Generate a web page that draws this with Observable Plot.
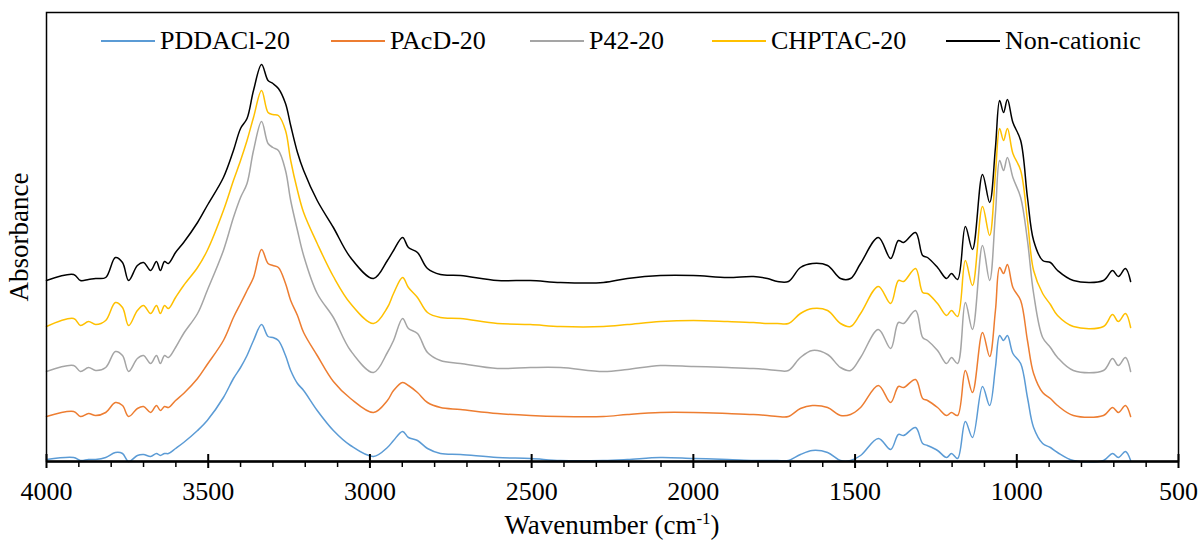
<!DOCTYPE html>
<html><head><meta charset="utf-8">
<script src="https://cdn.jsdelivr.net/npm/d3@7"></script>
<script src="https://cdn.jsdelivr.net/npm/@observablehq/plot@0.6"></script>
<style>
body{margin:0;background:#fff;}
#wrap{position:relative;width:1199px;height:542px;font-family:"Liberation Serif",Tinos,"Times New Roman",Times,"DejaVu Serif",serif;color:#000;}
.item{position:absolute;top:27px;height:28px;display:flex;align-items:center;font-size:26px;white-space:nowrap;}
.item .sw{display:block;width:54px;height:1.6px;margin-right:5px;}
#xlab{position:absolute;left:46px;width:1132px;top:510px;text-align:center;font-size:27px;line-height:30px;}
#xlab sup{font-size:17px;vertical-align:10px;line-height:0;}
</style></head><body><div id="wrap"></div>
<script>
const wavenumbers=[4000,3916,3895,3870,3848,3817,3787,3765,3746,3719,3700,3678,3660,3648,3635,3623,3601,3576,3533,3503,3453,3422,3400,3380,3360,3335,3315,3300,3283,3261,3245,3224,3205,3163,3113,3060,2989,2946,2927,2899,2881,2853,2822,2782,2720,2606,2504,2411,2278,2204,2102,2000,1894,1814,1771,1740,1706,1669,1632,1585,1545,1514,1483,1428,1390,1366,1350,1313,1291,1276,1245,1217,1202,1183,1159,1137,1106,1084,1066,1053,1041,1029,1012,988,967,948,920,896,874,825,732,704,686,664,648];
const seriesNames=["PDDACl-20","PAcD-20","P42-20","CHPTAC-20","Non-cationic"];
const seriesColors=["#5B9BD5","#ED7D31","#A5A5A5","#FFC000","#000000"];
const pddacl=[2,4,1,2,2,4,9,8,0,6,7,5,8,6,8,8,13,19,31,41,64,83,94,106,121,137,125,124,121,106,91,78,71,51,31,16,5,14,21,30,24,21,13,8,7,4,3,1,1,2,4,3,2,1,1,1,1,7,11,9,1,1,6,23,12,27,26,34,18,16,11,4,8,3,40,24,75,56,94,126,121,126,108,98,64,34,18,14,9,1,1,8,4,10,1];
const pacd=[45,50,45,48,46,49,59,56,45,53,55,49,56,51,55,54,61,68,83,97,121,144,158,171,184,212,198,196,194,178,161,146,129,106,80,63,49,61,71,79,76,69,59,54,52,48,46,45,45,47,49,49,48,47,46,45,45,53,56,54,46,47,54,76,59,75,74,82,63,61,54,46,49,46,91,69,129,105,151,194,188,197,174,161,121,88,69,63,56,46,46,54,49,56,45];
const p42=[90,96,90,94,91,94,110,106,90,103,106,98,106,98,106,104,114,128,148,171,211,244,264,278,311,340,318,314,311,291,261,231,206,168,144,111,89,109,121,143,133,128,109,101,98,93,94,94,90,92,96,95,94,93,92,91,91,104,111,107,94,91,104,132,113,139,138,151,124,121,111,98,104,98,159,132,216,181,248,301,291,304,284,264,221,168,124,114,104,91,91,103,96,104,90];
const chptac=[135,143,136,140,137,141,159,154,136,151,156,148,156,148,156,153,164,176,194,211,251,281,301,321,344,371,349,347,346,331,301,271,249,218,185,158,138,154,168,184,174,164,149,144,143,138,137,135,135,137,140,141,140,139,138,138,138,148,153,151,138,135,148,175,158,181,180,193,169,168,158,146,151,145,201,176,255,226,288,333,321,333,308,291,241,191,168,157,146,135,135,147,140,148,134];
const noncationic=[181,187,181,182,183,184,204,199,181,196,199,191,200,191,200,198,209,219,239,256,284,311,333,343,371,397,381,378,373,358,336,309,291,261,234,204,183,201,211,224,214,209,193,187,186,181,181,179,179,183,186,186,184,185,183,180,180,194,198,196,183,183,198,224,203,221,219,229,206,204,194,183,188,182,235,212,287,259,314,361,349,362,339,321,264,221,201,199,191,181,181,191,185,193,180];
const allSeries=[pddacl,pacd,p42,chptac,noncationic];
const majorTicks=d3.range(500,4001,500);
const minorTicks=d3.range(500,4001,100).filter(t=>t%500!==0);

const rows=[];
allSeries.forEach((vals,i)=>vals.forEach((v,j)=>rows.push({w:wavenumbers[j],a:v,s:seriesNames[i]})));

const serif='"Liberation Serif",Tinos,"Times New Roman",Times,"DejaVu Serif",serif';
const chart=Plot.plot({
  width:1199,height:542,
  marginLeft:46,marginRight:21,marginTop:12,marginBottom:81,
  style:{fontFamily:serif,fontSize:"26px",color:"#000",background:"#fff"},
  x:{domain:[4000,500]},
  y:{domain:[0,449],axis:null},
  color:{domain:seriesNames,range:seriesColors},
  marks:[
    Plot.line(rows,{x:"w",y:"a",z:"s",stroke:"s",strokeWidth:1.5,curve:"catmull-rom"}),
    Plot.frame({stroke:"#000",strokeWidth:1.5}),
    Plot.ruleY([0],{stroke:"#000",strokeWidth:2.5}),
    Plot.ruleX(minorTicks,{stroke:"#000",strokeWidth:1.5,insetTop:449,insetBottom:-6}),
    Plot.ruleX(majorTicks,{stroke:"#000",strokeWidth:2,insetTop:442,insetBottom:-7}),
    Plot.axisX({ticks:majorTicks,tickSize:0,tickPadding:20,tickFormat:"d",label:null,fontSize:26,fontFamily:serif}),
    Plot.text(["Absorbance"],{frameAnchor:"left",textAnchor:"middle",rotate:-90,dx:-27,fontSize:27,fontFamily:serif})
  ]
});
const wrap=document.getElementById("wrap");
wrap.appendChild(chart);

const legendLeft=[101,331,530,712,946];
seriesNames.forEach((n,i)=>{
  const d=document.createElement("div");
  d.className="item";
  d.style.left=legendLeft[i]+"px";
  const sw=document.createElement("span");
  sw.className="sw";
  sw.style.background=seriesColors[i];
  const t=document.createElement("span");
  t.textContent=n;
  d.appendChild(sw);d.appendChild(t);
  wrap.appendChild(d);
});
const xl=document.createElement("div");
xl.id="xlab";
xl.innerHTML="Wavenumber (cm<sup>-1</sup>)";
wrap.appendChild(xl);
</script>
</body></html>
